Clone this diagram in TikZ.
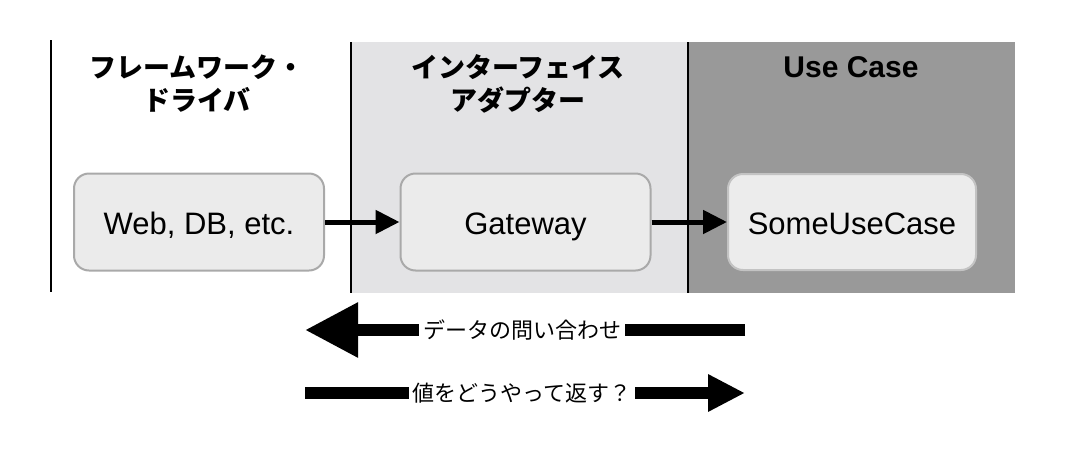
\documentclass[tikz,border=0pt]{standalone}
\usepackage{fontspec}
\setmainfont{Liberation Sans}
\newfontfamily\jp{Noto Sans CJK JP}
\usetikzlibrary{arrows.meta}
\definecolor{midpanel}{HTML}{E3E3E5}
\definecolor{darkpanel}{HTML}{999999}
\definecolor{boxfill}{HTML}{EBEBEB}
\definecolor{boxline}{HTML}{A9A9A9}
\tikzset{
  box/.style={draw=boxline, line width=2pt, fill=boxfill, rounded corners=15pt,
    minimum width=250pt, minimum height=97pt, inner sep=0pt,
    text height=28pt, text depth=4pt,
    font=\fontsize{31}{36}\selectfont},
  header/.style={align=center, font=\jp\bfseries\fontsize{27}{33}\selectfont},
  divider/.style={line width=2.5pt, black},
  conn/.style={line width=5pt, -{Triangle[length=24pt,width=23pt]}},
  fatlabel/.style={fill=white, inner sep=4pt, font=\jp\fontsize{22}{26}\selectfont}
}
\begin{document}
\begin{tikzpicture}[x=1pt,y=-1pt]
\useasboundingbox (0,0) rectangle (1072,472);
% panels
\fill[midpanel] (351,42) rectangle (688,293);
\fill[darkpanel] (688,42) rectangle (1015,293);
\draw[divider] (51,40) -- (51,292);
\draw[divider] (351,42) -- (351,293);
\draw[divider] (688,42) -- (688,293);
% headers
\node[header] (h1) at (197,84) {フレームワーク・\\ドライバ};
\node[header] (h2) at (518,84) {インターフェイス\\アダプター};
\node[font=\bfseries\fontsize{30}{36}\selectfont] (h3) at (851,67) {Use Case};
% boxes
\node[box] (web) at (199,222) {Web, DB, etc.};
\node[box] (gw) at (525.5,222) {Gateway};
\node[box, draw=boxline!70, fill=boxfill!95!white, minimum width=248pt, minimum height=96pt] (uc) at (852,222) {SomeUseCase};
% connectors
\draw[conn] (web) -- (gw);
\draw[conn] (gw) -- (uc);
% bottom fat arrows
\coordinate (q1) at (745,330);
\coordinate (q2) at (305,330);
\coordinate (r1) at (305,393);
\coordinate (r2) at (745,393);
\draw[line width=12pt, -{Triangle[length=53pt,width=52pt]}] (q1) -- (q2);
\node[fatlabel] (ql) at (522,330) {データの問い合わせ};
\draw[line width=12pt, -{Triangle[length=37pt,width=35pt]}] (r1) -- (r2);
\node[fatlabel] (rl) at (522,393) {値をどうやって返す？};
\end{tikzpicture}
\end{document}
